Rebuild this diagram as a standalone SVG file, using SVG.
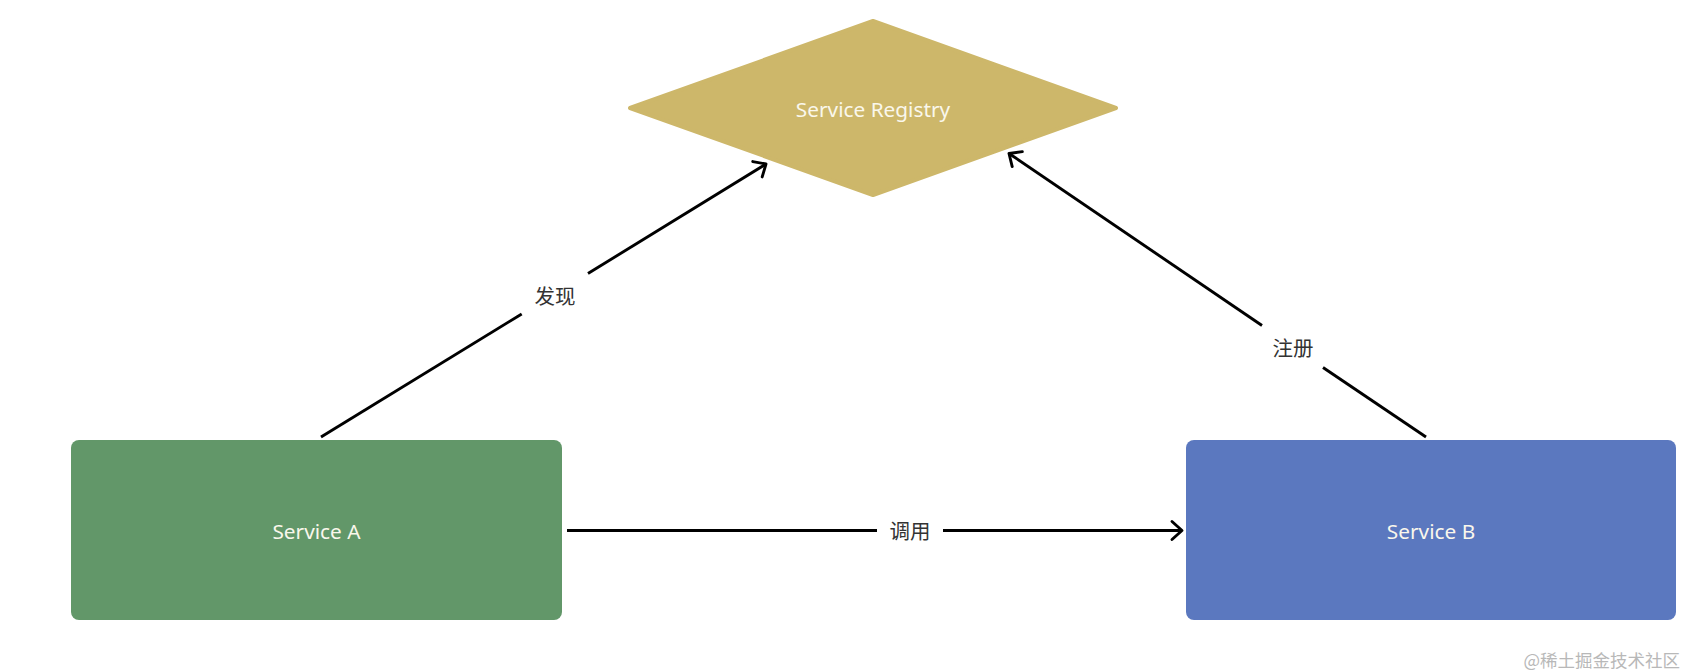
<svg xmlns="http://www.w3.org/2000/svg" width="1688" height="672" viewBox="0 0 1688 672">
  <defs>
    <style>
      .node-text { font-family: "Noto Sans", "Open Sans", sans-serif; font-size: 20.8px; fill: #FAF7EC; text-anchor: middle; }
      .label { font-family: "Noto Sans CJK SC", "Noto Sans", sans-serif; font-size: 20.5px; fill: #333333; text-anchor: middle; }
      .edge { stroke: #000000; stroke-width: 2.9; fill: none; stroke-linecap: butt; }
      .wm { font-family: "Noto Sans CJK SC", sans-serif; font-size: 17.5px; fill: #b8b8b8; text-anchor: end; }
    </style>
    <marker id="arrow" markerUnits="userSpaceOnUse" markerWidth="24" markerHeight="24" viewBox="-14 -12 16 24" refX="0" refY="0" orient="auto" overflow="visible">
      <path d="M-10,-9 L0,0 L-10,9" fill="none" stroke="#000000" stroke-width="2.9" stroke-linecap="round" stroke-linejoin="round"/>
    </marker>
  </defs>
  <rect width="1688" height="672" fill="#ffffff"/>

  <g id="registry">
    <polygon points="873,21 1116,108 873,195 630,108" fill="#CDB76A" stroke="#CDB76A" stroke-width="4" stroke-linejoin="round"/>
    <text class="node-text" x="873" y="117">Service Registry</text>
  </g>

  <g id="serviceA">
    <rect x="71" y="440" width="491" height="180" rx="8" ry="8" fill="#629769"/>
    <text class="node-text" x="316.5" y="539">Service A</text>
  </g>

  <g id="serviceB">
    <rect x="1186" y="440" width="490" height="180" rx="8" ry="8" fill="#5B78BF"/>
    <text class="node-text" x="1431" y="539">Service B</text>
  </g>

  <g id="connectors">
    <path class="edge" d="M321,437 L521.7,314"/>
    <path class="edge" d="M588,273.5 L766,164" marker-end="url(#arrow)"/>
    <text class="label" x="555" y="304">发现</text>

    <path class="edge" d="M1426,437 L1323,367.5"/>
    <path class="edge" d="M1262,325.5 L1009,153.5" marker-end="url(#arrow)"/>
    <text class="label" x="1293" y="356">注册</text>

    <path class="edge" d="M567,530.5 L877,530.5"/>
    <path class="edge" d="M943,530.5 L1182,530.5" marker-end="url(#arrow)"/>
    <text class="label" x="910" y="538.5">调用</text>
  </g>

  <text class="wm" x="1680" y="667">@稀土掘金技术社区</text>
</svg>
